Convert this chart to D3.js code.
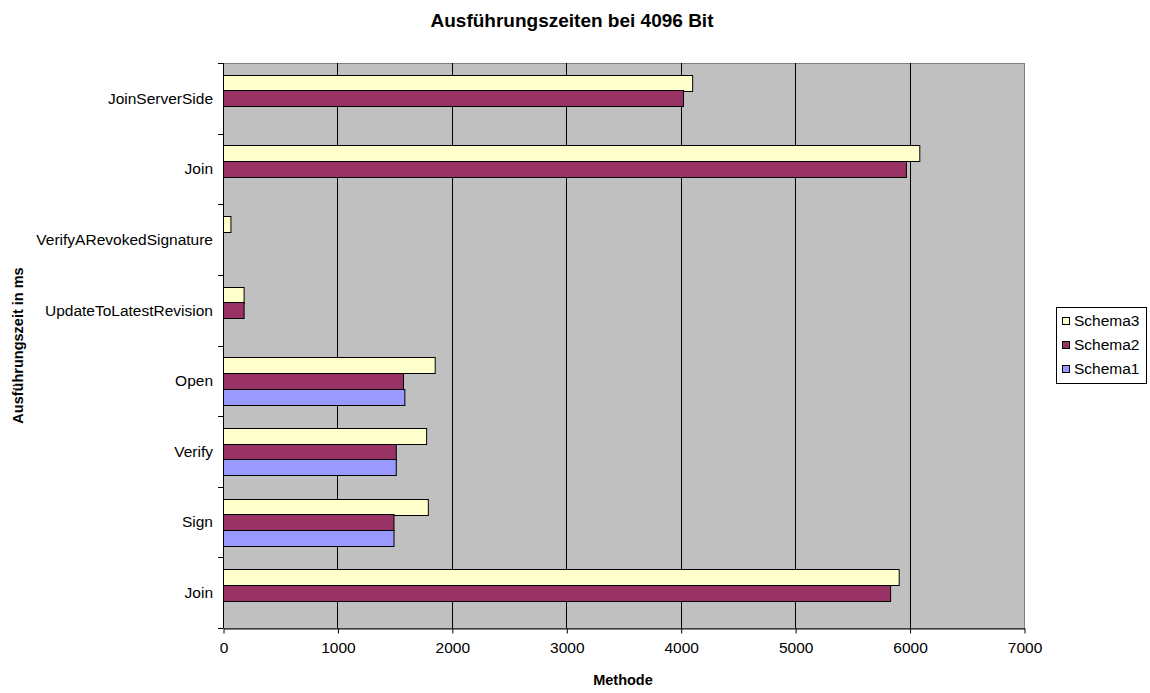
<!DOCTYPE html>
<html>
<head>
<meta charset="utf-8">
<script src="https://cdn.jsdelivr.net/npm/d3@7"></script>
<style>
  html, body { margin: 0; padding: 0; background: #fff; }
  svg { display: block; font-family: "Liberation Sans", Arial, sans-serif; }
</style>
</head>
<body>
<svg id="chart" width="1150" height="693"></svg>
<script>
// Methods, listed from top to bottom of the chart
const categories = ["JoinServerSide", "Join", "VerifyARevokedSignature", "UpdateToLatestRevision", "Open", "Verify", "Sign", "Join"];
// Execution times in ms (null = no measurement)
const schema3 = [4100, 6085, 65, 180, 1850, 1775, 1790, 5905];
const schema2 = [4020, 5968, null, 180, 1573, 1510, 1490, 5830];
const schema1 = [null, null, null, null, 1585, 1510, 1490, null];
const seriesNames = ["Schema3", "Schema2", "Schema1"];
const seriesColors = ["#FFFFCC", "#993366", "#9999FF"];
const xTicks = [0, 1000, 2000, 3000, 4000, 5000, 6000, 7000];

const seriesValues = [schema3, schema2, schema1];

const svg = d3.select("#chart");
const plotLeft = 223, plotRight = 1024, plotTop = 63, plotBottom = 628;
const labelSize = 15.5;

const x = d3.scaleLinear().domain([0, 7000]).range([plotLeft, plotRight]);
const y = d3.scaleBand().domain(d3.range(categories.length)).range([plotTop, plotBottom]).padding(0);
const step = y.step();
const inner = d3.scaleBand().domain(seriesNames).range([step / 6, step * 5 / 6]).padding(0);

// plot background
svg.append("rect")
  .attr("x", plotLeft + 0.5).attr("y", plotTop + 0.5)
  .attr("width", plotRight - plotLeft).attr("height", plotBottom - plotTop)
  .attr("fill", "#C0C0C0").attr("stroke", "#808080").attr("stroke-width", 1);

// vertical gridlines
svg.append("g").selectAll("line")
  .data(xTicks.filter(d => d > 0 && d < 7000))
  .join("line")
  .attr("x1", d => Math.round(x(d)) + 0.5).attr("x2", d => Math.round(x(d)) + 0.5)
  .attr("y1", plotTop).attr("y2", plotBottom)
  .attr("stroke", "#000").attr("stroke-width", 1);

// bars
const rows = [];
categories.forEach((c, i) => {
  seriesNames.forEach((s, j) => {
    const v = seriesValues[j][i];
    if (v != null) rows.push({ i, s, j, v });
  });
});
svg.append("g").selectAll("rect")
  .data(rows)
  .join("rect")
  .attr("x", x(0) + 0.5)
  .attr("y", d => Math.round(y(d.i) + inner(d.s)) + 0.5)
  .attr("width", d => x(d.v) - x(0))
  .attr("height", Math.round(inner.bandwidth()))
  .attr("fill", d => seriesColors[d.j])
  .attr("stroke", "#000").attr("stroke-width", 1);

// x axis
const xAxis = svg.append("g")
  .attr("transform", `translate(0.5,${plotBottom + 0.5})`)
  .call(d3.axisBottom(x).tickValues(xTicks).tickFormat(d3.format("d")).tickSize(5).tickSizeOuter(0));
xAxis.select(".domain").attr("stroke", "#000");
xAxis.selectAll(".tick line").attr("stroke", "#000");
xAxis.selectAll("text").attr("font-size", labelSize).attr("fill", "#000")
  .attr("font-family", "Liberation Sans, Arial, sans-serif").attr("y", 0).attr("dy", "1.55em");

// y axis: line, boundary ticks and category labels
svg.append("line")
  .attr("x1", plotLeft + 0.5).attr("x2", plotLeft + 0.5)
  .attr("y1", plotTop).attr("y2", plotBottom)
  .attr("stroke", "#000");
svg.append("g").selectAll("line")
  .data(d3.range(categories.length + 1))
  .join("line")
  .attr("x1", plotLeft - 5).attr("x2", plotLeft)
  .attr("y1", d => Math.round(plotTop + d * step) + 0.5)
  .attr("y2", d => Math.round(plotTop + d * step) + 0.5)
  .attr("stroke", "#000");
svg.append("g").selectAll("text")
  .data(categories)
  .join("text")
  .attr("x", 213)
  .attr("y", (d, i) => y(i) + step / 2)
  .attr("dy", "0.35em")
  .attr("text-anchor", "end")
  .attr("font-size", labelSize)
  .attr("fill", "#000")
  .text(d => d);

// titles
svg.append("text")
  .attr("x", 572).attr("y", 27)
  .attr("text-anchor", "middle")
  .attr("font-size", 19).attr("font-weight", "bold")
  .text("Ausführungszeiten bei 4096 Bit");
svg.append("text")
  .attr("x", 623).attr("y", 685)
  .attr("text-anchor", "middle")
  .attr("font-size", 14.5).attr("font-weight", "bold")
  .text("Methode");
svg.append("text")
  .attr("transform", `translate(23,${(plotTop + plotBottom) / 2}) rotate(-90)`)
  .attr("text-anchor", "middle")
  .attr("font-size", 14.5).attr("font-weight", "bold")
  .text("Ausführungszeit in ms");

// legend
const lg = svg.append("g").attr("transform", "translate(1056,307)");
lg.append("rect")
  .attr("x", 0.5).attr("y", 0.5).attr("width", 90).attr("height", 76)
  .attr("fill", "#fff").attr("stroke", "#000");
const item = lg.selectAll("g.item")
  .data(seriesNames)
  .join("g")
  .attr("class", "item")
  .attr("transform", (d, i) => `translate(0,${14 + i * 24})`);
item.append("rect")
  .attr("x", 6.5).attr("y", -3.5).attr("width", 7).attr("height", 7)
  .attr("fill", (d, i) => seriesColors[i]).attr("stroke", "#000");
item.append("text")
  .attr("x", 18).attr("y", 0).attr("dy", "0.35em")
  .attr("font-size", labelSize).attr("fill", "#000")
  .text(d => d);
</script>
</body>
</html>
